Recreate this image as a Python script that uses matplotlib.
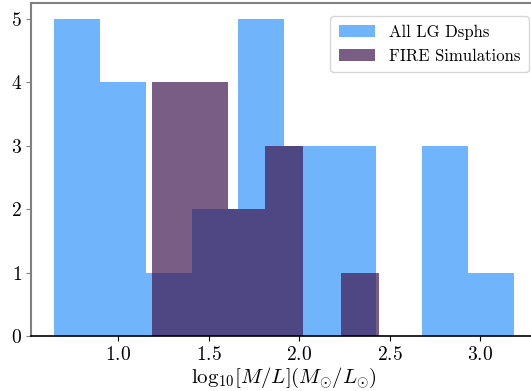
import numpy as np
import matplotlib
matplotlib.use('Agg')
import matplotlib.pyplot as plt

plt.rcParams['font.family'] = 'serif'
plt.rcParams['font.serif'] = ['cmr10']
plt.rcParams['mathtext.fontset'] = 'cm'
plt.rcParams['axes.formatter.use_mathtext'] = True

# Histogram counts per bin
lg_counts = [5, 4, 1, 2, 5, 3, 3, 0, 3, 1]
fire_counts = [4, 4, 2, 3, 0, 1]

# Bin ranges in log10(M/L)
lg_range = (0.645, 3.186)
fire_range = (1.186, 2.440)

lg_edges = np.linspace(lg_range[0], lg_range[1], len(lg_counts) + 1)
fire_edges = np.linspace(fire_range[0], fire_range[1], len(fire_counts) + 1)

fig = plt.figure(figsize=(5.31, 3.91), dpi=100)
ax = fig.add_axes([31 / 531, 55 / 391, 506 / 531, 333 / 391])

ax.hist(lg_edges[:-1], bins=lg_edges, weights=lg_counts,
        color='#70b4fc', label='All LG Dsphs')
ax.hist(fire_edges[:-1], bins=fire_edges, weights=fire_counts,
        color='#421951', alpha=0.7, label='FIRE Simulations')

ax.set_xlim(0.518, 3.313)
ax.set_ylim(0, 5.25)
ax.set_xticks([1.0, 1.5, 2.0, 2.5, 3.0])
ax.set_yticks([0, 1, 2, 3, 4, 5])

for side in ['left', 'top']:
    ax.spines[side].set_color('#808080')
    ax.spines[side].set_linewidth(1.5)
ax.spines['bottom'].set_color('black')
ax.spines['bottom'].set_linewidth(1.2)

ax.tick_params(axis='x', labelsize=14, length=3.5, color='black', pad=4)
ax.tick_params(axis='y', labelsize=14, length=3.5, color='#808080', pad=3)

ax.set_xlabel(r'$\mathrm{log}_{10}[M/L](M_{\odot}/L_{\odot})$', fontsize=15, labelpad=1)

leg = ax.legend(loc='upper right', fontsize=12, bbox_to_anchor=(1.0, 0.985),
                handlelength=2.2, borderpad=0.5, labelspacing=0.5,
                fancybox=True, framealpha=0.8)

fig.savefig('out.png', dpi=100)
